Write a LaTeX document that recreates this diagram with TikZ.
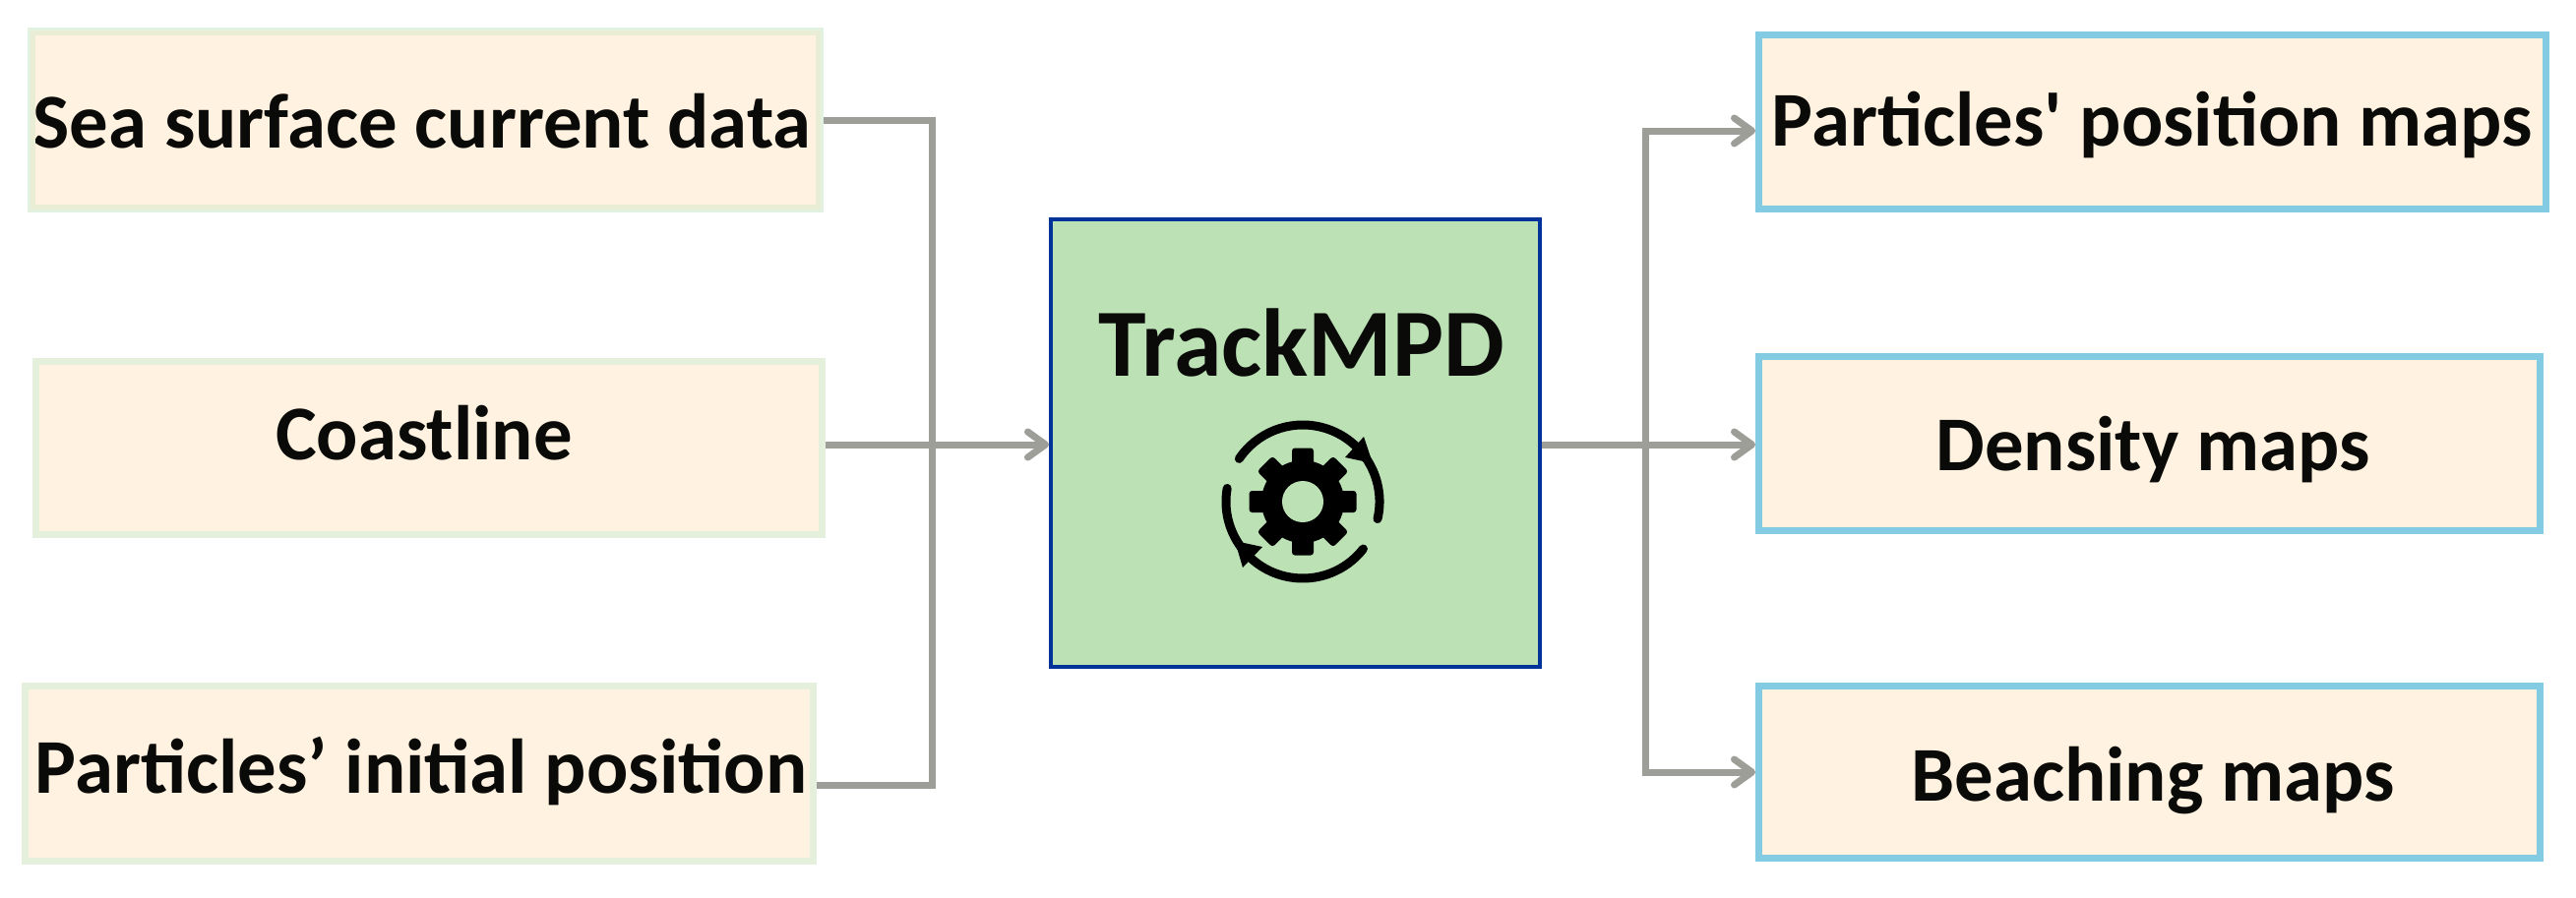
\documentclass[tikz,border=0pt]{standalone}
\usepackage{fontspec}
\setmainfont{Carlito}
\newfontfamily\plainf{Carlito}
\usetikzlibrary{arrows.meta,calc}
\definecolor{creamfill}{HTML}{FFF2E0}
\definecolor{paleout}{HTML}{E3F1E0}
\definecolor{paleinn}{HTML}{E8EDD3}
\definecolor{palemid}{HTML}{E5F0DC}
\definecolor{skyline}{HTML}{82CBE3}
\definecolor{procfill}{HTML}{BBE1B5}
\definecolor{procline}{HTML}{003399}
\definecolor{wire}{HTML}{9D9E98}
\definecolor{inkk}{HTML}{0A0A08}
\tikzset{
  x=0.5pt,y=-0.5pt,
  txt/.style={font=\fontsize{39.4}{44}\selectfont\bfseries,text=inkk,text depth=0pt},
  inbox/.style={rectangle,draw=palemid,line width=3.5pt,fill=creamfill,inner sep=0pt,txt},
  topbox/.style={rectangle,draw=paleout,line width=2.75pt,fill=creamfill,inner sep=0pt,txt},
  band/.style={draw=paleinn,line width=2.5pt},
  outbox/.style={rectangle,draw=skyline,line width=3.5pt,fill=creamfill,inner sep=0pt,txt},
  procbox/.style={rectangle,draw=procline,line width=2pt,fill=procfill,inner sep=0pt},
  wireline/.style={draw=wire,line width=3.5pt},
  wirearrow/.style={wireline,-{Straight Barb[length=9pt,width=13pt,round]}},
}
\begin{document}
\begin{tikzpicture}
\useasboundingbox (0,0) rectangle (2618,912);
% input boxes
\node[topbox,text height=28.5pt,minimum width=401.75pt,minimum height=91.25pt] (s1) at (432.5,122) {Sea surface current data\kern3.5pt};
\node[inbox,text height=11.5pt,minimum width=399.5pt,minimum height=88pt] (s2) at (436,455.5) {Coastline\kern5pt};
\node[inbox,text height=19.5pt,minimum width=400.5pt,minimum height=89pt] (s3) at (426,786.5) {\kern2pt Particles’ initial position};
\draw[band] ($(s1.north west)+(5.25,5.25)$) rectangle ($(s1.south east)+(-5.25,-5.25)$);
% process
\node[procbox,minimum width=248.5pt,minimum height=227.5pt] (c) at (1316.5,450.5) {};
\node[font=\fontsize{49}{56}\selectfont\bfseries,text=inkk,anchor=base] (tm) at (1323,382) {TrackMPD};
% output boxes
\node[outbox,text height=24.5pt,minimum width=400pt,minimum height=88.5pt] (r1) at (2187.5,124) {\plainf\bfseries Particles' position maps};
\node[outbox,text height=27.5pt,minimum width=397pt,minimum height=88.5pt] (r2) at (2184.5,451) {\kern3.5pt Density maps};
\node[outbox,text height=29pt,minimum width=397pt,minimum height=87.5pt] (r3) at (2184.5,785) {\kern3.5pt Beaching maps};
% connectors
\coordinate (busL) at (947,452);
\coordinate (s3out) at ($(s3.east)+(0,11.5)$);
\draw[wireline] (s1.east) -| (busL);
\draw[wireline] (s3out) -| (busL);
\draw[wirearrow] (s2.east |- busL) -- (c.west |- busL);
\coordinate (busR) at (1672,452);
\coordinate (r1in) at ($(r1.west)+(0,9)$);
\draw[wireline] (c.east |- busR) -- (busR);
\draw[wirearrow] (busR) |- (r1in);
\draw[wirearrow] (busR) -- (r2.west |- busR);
\draw[wirearrow] (busR) |- (r3.west);
% gear icon
\begin{scope}[shift={(1324,510)}]
  \foreach \a in {0,45,...,315}
    \fill[black,rotate=\a,rounded corners=1.5pt] (-11,-54.5) rectangle (11,0);
  \fill[black] (0,0) circle (21pt);
  \fill[procfill] (0,0) circle (10.5pt);
  \draw[black,line width=4.5pt,line cap=round] (190:78) arc[start angle=190,end angle=38,radius=78];
  \draw[black,line width=4.5pt,line cap=round] (13:78) arc[start angle=13,end angle=-146,radius=78];
\end{scope}
\fill[black,line join=round] (1386,444) -- (1395,471) -- (1367,465) -- cycle;
\fill[black,line join=round] (1255,550) -- (1283,556) -- (1263,577) -- cycle;
\end{tikzpicture}
\end{document}
